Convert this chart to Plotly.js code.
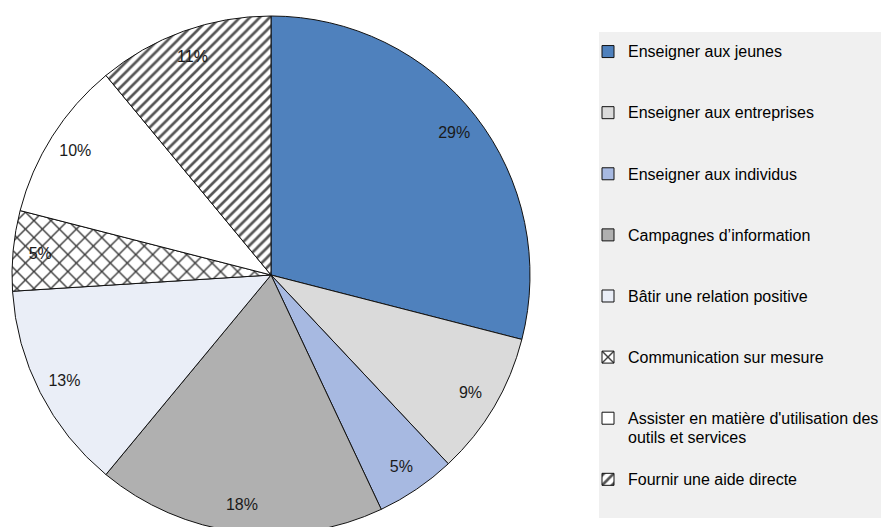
<!DOCTYPE html>
<html>
<head>
<meta charset="utf-8">
<script src="https://cdn.plot.ly/plotly-3.0.1.min.js"></script>
<style>
  html, body { margin: 0; padding: 0; overflow: hidden; background: #fff; }
  #chart { width: 881px; height: 540px; }
</style>
</head>
<body>
<div id="chart"></div>
<script>
// ---- data ----
const categories = [
  "Enseigner aux jeunes",
  "Enseigner aux entreprises",
  "Enseigner aux individus",
  "Campagnes d\u2019information",
  "B\u00e2tir une relation positive",
  "Communication sur mesure",
  "Assister en mati\u00e8re d'utilisation des<br>outils et services",
  "Fournir une aide directe"
];
const shares = [29, 9, 5, 18, 13, 5, 10, 11];

// ---- styles ----
const sliceColors = ["#4f81bd", "#dadada", "#a7b9e1", "#b0b0b0", "#eaeef7", "#ffffff", "#ffffff", "#ffffff"];
const patternShapes = ["", "", "", "", "", "x", "", "/"];
const patternSizes = [8, 8, 8, 8, 8, 12, 8, 7];
const patternSolid = [0.3, 0.3, 0.3, 0.3, 0.3, 0.22, 0.3, 0.38];
const patternFg = ["#333", "#333", "#333", "#333", "#333", "#3a3a3a", "#333", "#555555"];

const W = 881, H = 540;
const font = "'Liberation Sans', Arial, sans-serif";

// legend text: pad with a blank line above (and below for single-line entries)
const legendLabels = categories.map(c => {
  const inner = '<span style="font-size:16px">' + c.split('<br>').join('</span><br><span style="font-size:16px">') + '</span>';
  const multi = c.indexOf('<br>') >= 0;
  return '\u00a0<br>' + inner + (multi ? '' : '<br>\u00a0');
});

const pieDomain = { x: [12 / W, 530 / W], y: [(H - 534) / H, (H - 16) / H] };

const slices = {
  type: 'pie',
  labels: legendLabels,
  values: shares,
  sort: false,
  direction: 'clockwise',
  rotation: 0,
  domain: pieDomain,
  textinfo: 'none',
  hoverinfo: 'none',
  marker: {
    colors: sliceColors,
    line: { color: '#111111', width: 1 },
    pattern: {
      shape: patternShapes,
      size: patternSizes,
      solidity: patternSolid,
      fgcolor: patternFg,
      bgcolor: '#ffffff'
    }
  }
};

// transparent ring used only to place the percentage labels near the rim
const labelRing = {
  type: 'pie',
  labels: categories.map(c => c + ' '),
  values: shares,
  sort: false,
  direction: 'clockwise',
  rotation: 0,
  domain: pieDomain,
  hole: 0.79,
  showlegend: false,
  hoverinfo: 'none',
  textinfo: 'percent',
  texttemplate: '%{percent:.0%}',
  textposition: 'inside',
  insidetextorientation: 'horizontal',
  insidetextfont: { family: font, size: 16, color: '#1a1a1a' },
  marker: {
    colors: shares.map(() => 'rgba(0,0,0,0)'),
    line: { width: 0 }
  }
};

const layout = {
  width: W,
  height: H,
  margin: { l: 0, r: 0, t: 0, b: 0, autoexpand: false },
  paper_bgcolor: '#ffffff',
  font: { family: font, color: '#000000' },
  uniformtext: { mode: 'show', minsize: 16 },
  showlegend: true,
  legend: {
    x: 588 / W,
    xanchor: 'left',
    y: (H - 16) / H,
    yanchor: 'top',
    bgcolor: 'rgba(0,0,0,0)',
    borderwidth: 0,
    font: { family: font, size: 14.9, color: '#000000' },
    traceorder: 'normal',
    valign: 'middle'
  },
  shapes: [{
    type: 'rect', xref: 'paper', yref: 'paper', layer: 'below',
    x0: 599 / W, x1: 1.02, y0: (H - 518) / H, y1: (H - 32) / H,
    fillcolor: '#f0f0f0', line: { width: 0 }
  }]
};

Plotly.newPlot('chart', [slices, labelRing], layout, { staticPlot: true, displayModeBar: false });
</script>
</body>
</html>
